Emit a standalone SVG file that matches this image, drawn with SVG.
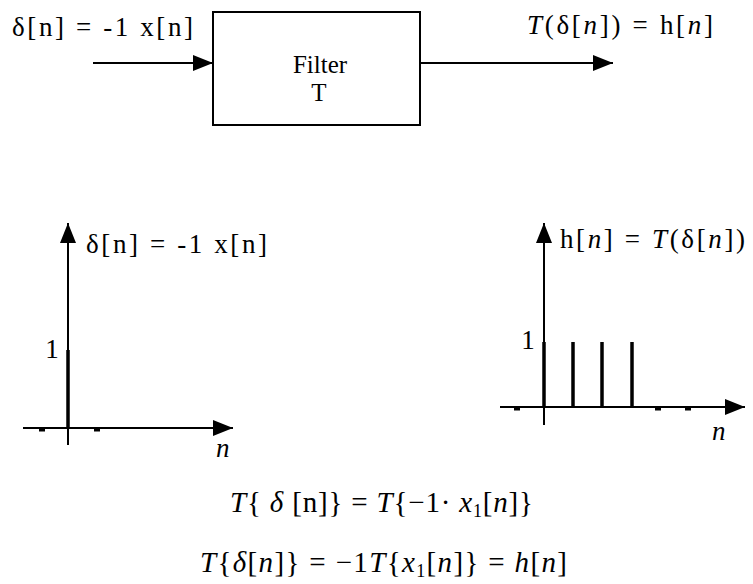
<svg xmlns="http://www.w3.org/2000/svg" width="753" height="584" viewBox="0 0 753 584">
<style>
text{font-family:'Liberation Serif','Times New Roman',serif;fill:#000}
.s{font-size:27px}
.f{font-size:25px}
.m{font-size:29px}
.i{font-style:italic}
.ln{stroke:#000;stroke-width:2;fill:none}
.stem{stroke:#000;stroke-width:3.5}
.dash{stroke:#000;stroke-width:3}
</style>
<defs>
<marker id="ah" viewBox="0 0 20 16" refX="20" refY="8" markerWidth="20" markerHeight="16" markerUnits="userSpaceOnUse" orient="auto">
<path d="M0,0 L20,8 L0,16 Z" fill="#000"/>
</marker>
</defs>
<rect width="753" height="584" fill="#fff"/>
<g id="connectors">
<line class="ln" x1="93" y1="63" x2="213" y2="63" marker-end="url(#ah)"/>
<line class="ln" x1="420" y1="63" x2="613" y2="63" marker-end="url(#ah)"/>
</g>
<g id="input-label">
<text class="s" x="12" y="36" textLength="181" lengthAdjust="spacing">δ[n] = -1 x[n]</text>
</g>
<g id="filter">
<rect x="213" y="12" width="207" height="113" fill="#fff" stroke="#000" stroke-width="2"/>
<text class="f" x="320" y="73" text-anchor="middle">Filter</text>
<text class="f" x="319" y="101" text-anchor="middle">T</text>
</g>
<g id="output-label">
<text class="s" x="527" y="34" textLength="186" lengthAdjust="spacing"><tspan class="i">T</tspan>(δ[<tspan class="i">n</tspan>]) = h[<tspan class="i">n</tspan>]</text>
</g>
<g id="graph-left">
<line class="ln" x1="68" y1="445" x2="68" y2="223" marker-end="url(#ah)"/>
<line class="ln" x1="23" y1="428" x2="233" y2="428" marker-end="url(#ah)"/>
<line class="stem" x1="68" y1="350" x2="68" y2="428"/>
<line class="dash" x1="39" y1="430" x2="45" y2="430"/>
<line class="dash" x1="94" y1="430" x2="100" y2="430"/>
<text class="s" x="52" y="358" text-anchor="middle">1</text>
<text class="s i" x="216" y="457">n</text>
<text class="s" x="86" y="253" textLength="181" lengthAdjust="spacing">δ[n] = -1 x[n]</text>
</g>
<g id="graph-right">
<line class="ln" x1="544" y1="425" x2="544" y2="223" marker-end="url(#ah)"/>
<line class="ln" x1="500" y1="407" x2="745" y2="407" marker-end="url(#ah)"/>
<line class="stem" x1="544" y1="342" x2="544" y2="407"/>
<line class="stem" x1="573" y1="342" x2="573" y2="407"/>
<line class="stem" x1="602" y1="342" x2="602" y2="407"/>
<line class="stem" x1="632" y1="342" x2="632" y2="407"/>
<line class="dash" x1="514" y1="409" x2="520" y2="409"/>
<line class="dash" x1="655" y1="409" x2="661" y2="409"/>
<line class="dash" x1="685" y1="409" x2="691" y2="409"/>
<text class="s" x="528" y="349" text-anchor="middle">1</text>
<text class="s i" x="712" y="440">n</text>
<text class="s" x="560" y="248" textLength="185" lengthAdjust="spacing">h[<tspan class="i">n</tspan>] = <tspan class="i">T</tspan>(δ[<tspan class="i">n</tspan>])</text>
</g>
<g id="equations">
<text class="m" x="230" y="512" textLength="303" lengthAdjust="spacing"><tspan class="i">T</tspan>{ <tspan class="i">δ</tspan> [n]} = <tspan class="i">T</tspan>{−1· <tspan class="i">x</tspan><tspan font-size="18" dy="5">1</tspan><tspan dy="-5">[</tspan><tspan class="i">n</tspan>]}</text>
<text class="m" x="200" y="572" textLength="367" lengthAdjust="spacing"><tspan class="i">T</tspan>{<tspan class="i">δ</tspan>[<tspan class="i">n</tspan>]} = −1<tspan class="i">T</tspan>{<tspan class="i">x</tspan><tspan font-size="18" dy="5">1</tspan><tspan dy="-5">[</tspan><tspan class="i">n</tspan>]} = <tspan class="i">h</tspan>[<tspan class="i">n</tspan>]</text>
</g>
</svg>
